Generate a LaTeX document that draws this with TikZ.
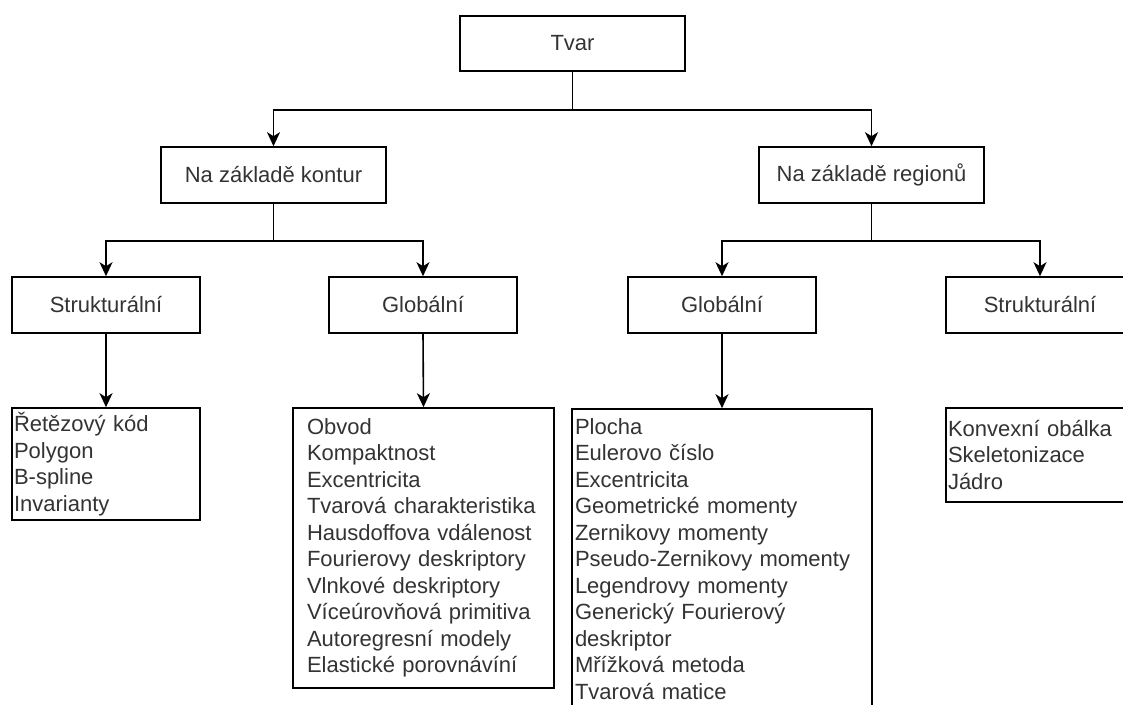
\documentclass[tikz,border=0pt]{standalone}
\usepackage{fontspec}
\setmainfont{Liberation Sans}
\usetikzlibrary{arrows.meta}
\definecolor{txt}{HTML}{333333}
\begin{document}
\begin{tikzpicture}[x=1pt,y=-1pt,
  box/.style={draw, line width=1.6pt, rectangle, inner sep=0pt,
    font=\fontsize{22}{26.5}\selectfont, text=txt},
  listbox/.style={box, align=left},
  arr/.style={line width=1.6pt, -{Stealth[length=14pt,width=13pt,inset=4pt]}}]
\useasboundingbox (0,0) rectangle (1123,704);
\clip (0,0) rectangle (1123,704);
\fill[white] (0,0) rectangle (1123,704);

\node[box, minimum width=225pt, minimum height=55pt] (tvar) at (572.5,43.5) {Tvar};
\node[box, minimum width=225pt, minimum height=56pt] (kont) at (273.5,175) {Na základě kontur};
\node[box, minimum width=225pt, minimum height=56pt] (reg) at (871.5,175) {Na základě regionů};

\node[box, minimum width=188pt, minimum height=56pt] (sl) at (106,305) {Strukturální};
\node[box, minimum width=188pt, minimum height=56pt] (gl) at (423,305) {Globální};
\node[box, minimum width=188pt, minimum height=56pt] (gr) at (722,305) {Globální};
\node[box, minimum width=188pt, minimum height=56pt] (sr) at (1040,305) {Strukturální};

\node[listbox, minimum width=188pt, minimum height=112pt, text width=184pt, inner xsep=2pt] (lsl) at (106,464)
  {Řetězový kód\\Polygon\\B-spline\\Invarianty};
\node[listbox, minimum width=261pt, minimum height=280pt, text width=233pt, inner xsep=14pt] (lgl) at (423.5,548)
  {Obvod\\Kompaktnost\\Excentricita\\Tvarová charakteristika\\Hausdoffova vdálenost\\Fourierovy deskriptory\\Vlnkové deskriptory\\Víceúrovňová primitiva\\Autoregresní modely\\Elastické porovnávíní};
\node[listbox, minimum width=300pt, minimum height=300pt, text width=294pt, inner xsep=3pt] (lgr) at (722,559)
  {Plocha\\Eulerovo číslo\\Excentricita\\Geometrické momenty\\Zernikovy momenty\\Pseudo-Zernikovy momenty\\Legendrovy momenty\\Generický Fourierový\\deskriptor\\Mřížková metoda\\Tvarová matice};
\node[listbox, minimum width=188pt, minimum height=94pt, text width=184pt, inner xsep=2pt] (lsr) at (1040,455)
  {Konvexní obálka\\Skeletonizace\\Jádro};

\draw[arr] (tvar.south) -- ++(0,38) -| (kont.north);
\draw[arr] (tvar.south) -- ++(0,38) -| (reg.north);
\draw[arr] (kont.south) -- ++(0,37) -| (sl.north);
\draw[arr] (kont.south) -- ++(0,37) -| (gl.north);
\draw[arr] (reg.south) -- ++(0,37) -| (gr.north);
\draw[arr] (reg.south) -- ++(0,37) -| (sr.north);
\draw[arr] (sl.south) -- (lsl.north);
\draw[arr] (gl.south) -- (lgl.north);
\draw[arr] (gr.south) -- (lgr.north);
\end{tikzpicture}
\end{document}
